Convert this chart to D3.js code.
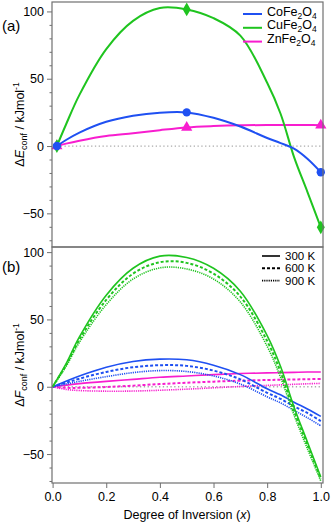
<!DOCTYPE html>
<html>
<head>
<meta charset="utf-8">
<script src="https://cdn.jsdelivr.net/npm/d3@7"></script>
<style>
  body { margin: 0; background: #fff; }
  text { font-family: "Liberation Sans", Arial, sans-serif; }
</style>
</head>
<body>
<div id="chart"></div>
<script>
// degree of inversion sampled for each panel
var xA = [0.016, 0.05, 0.1, 0.2, 0.3, 0.4, 0.5, 0.6, 0.7, 0.8, 0.85, 0.9, 0.95, 1.0];
var xB = [0, 0.05, 0.1, 0.2, 0.3, 0.4, 0.5, 0.6, 0.7, 0.8, 0.85, 0.9, 0.95, 1.0];

// (a) configurational energy, kJ/mol
var eCo = [0, 4.5, 10, 18, 22.5, 24.8, 25, 21, 14.5, 6, 2.2, -2, -9.5, -19.5];
var eCu = [0, 16, 38, 72, 93, 102.5, 101.5, 95, 82, 47, 24, -8, -34, -60.4];
var eZn = [0, 1.8, 4, 7.5, 9.5, 11.8, 13.8, 14.8, 15.4, 15.6, 15.6, 15.6, 15.6, 15.5];
var markerX = [0.016, 0.5, 1.0];

// (b) configurational free energy at 300 / 600 / 900 K
var fCu300 = [0, 17, 37, 68, 88, 97, 96, 88, 71, 38, 15, -15, -41, -67];
var fCu600 = [0, 16, 35, 64.5, 84, 92.5, 92, 84, 67, 34, 11, -18, -43, -68.5];
var fCu900 = [0, 15, 33, 61, 80, 88.3, 87.5, 80, 63, 30, 7, -21, -46, -70];
var fCo300 = [0, 4, 8, 14.5, 18.8, 20.5, 20, 16, 9, -1.5, -6, -11.5, -16.5, -22];
var fCo600 = [0, 3, 6, 11, 14.5, 16, 15.5, 12, 5.5, -4.5, -9, -14.5, -19.5, -25.5];
var fCo900 = [0, 2, 4, 7.5, 10.5, 12, 11.3, 8, 2, -7.5, -12, -17.5, -23, -29];
var fZn300 = [0, 1.2, 2.3, 4, 5.5, 7, 8, 9, 9.8, 10.3, 10.5, 10.7, 10.9, 11];
var fZn600 = [0, -0.8, -0.8, -0.2, 0.8, 2, 3, 3.8, 4.5, 5, 5.2, 5.4, 5.6, 5.8];
var fZn900 = [0, -2, -2.8, -3.3, -3.2, -2.6, -1.8, -0.8, 0.2, 1, 1.4, 1.8, 2.2, 2.5];

var yTicksMajor = [-50, 0, 50, 100];
var yTicksMinor = [-70, -60, -40, -30, -20, -10, 10, 20, 30, 40, 60, 70, 80, 90];
var xTicks = [0, 0.2, 0.4, 0.6, 0.8, 1.0];
var materials = ["CoFe2O4", "CuFe2O4", "ZnFe2O4"];
var temps = ["300 K", "600 K", "900 K"];

var colBlue = "#1f50f2";
var colGreen = "#1fc41f";
var colPink = "#f81dcf";
var frameCol = "#707070";

var w = 331, h = 523;
var left = 52, right = 323, topA = 2, mid = 247, bottom = 483;

var svg = d3.select("#chart")
    .append("svg")
    .attr("width", w)
    .attr("height", h);

var xScale = d3.scaleLinear().domain([0, 1]).range([52.6, 320.8]);
var yA = d3.scaleLinear().domain([-75, 107]).range([mid, topA]);
var yB = d3.scaleLinear().domain([-71.5, 103.8]).range([bottom, mid]);

function pairs(xs, ys) {
    return xs.map(function (x, i) { return [x, ys[i]]; });
}

// write a chemical formula with subscripts
function formula(sel, s) {
    s.split(/(\d)/).forEach(function (part) {
        if (part === "") return;
        if (/\d/.test(part)) {
            sel.append("tspan").attr("font-size", "8.5px").attr("dy", 3).text(part);
        } else {
            sel.append("tspan").attr("dy", sel.selectAll("tspan").size() ? -3 : 0).text(part);
        }
    });
}

function leftAxis(y, g) {
    g.call(d3.axisLeft(y).tickValues(yTicksMinor).tickSize(2.5).tickFormat(""));
    g.append("g").call(d3.axisLeft(y).tickValues(yTicksMajor).tickSize(5).tickPadding(3));
    g.selectAll(".domain").remove();
    g.selectAll("line").attr("stroke", frameCol);
    g.selectAll("text").attr("font-size", "12.5px").attr("fill", "#000")
        .attr("font-family", "Liberation Sans, Arial, sans-serif");
}

function yTitle(cy, letter) {
    var t = svg.append("text")
        .attr("transform", "translate(24," + cy + ") rotate(-90)")
        .attr("text-anchor", "middle")
        .attr("font-size", "12.5px");
    t.append("tspan").text("\u0394");
    t.append("tspan").attr("font-style", "italic").text(letter);
    t.append("tspan").attr("font-size", "9px").attr("dy", 3).text("conf");
    t.append("tspan").attr("dy", -3).text(" / kJmol");
    t.append("tspan").attr("font-size", "8.5px").attr("dy", -5).text("-1");
}

// ---------- panel (a)
var gA = svg.append("g");
leftAxis(yA, gA.append("g").attr("transform", "translate(" + left + ",0)"));

gA.append("line")
    .attr("x1", xScale(0.016)).attr("x2", xScale(1))
    .attr("y1", yA(0)).attr("y2", yA(0))
    .attr("stroke", "#aaa").attr("stroke-width", 1.3)
    .attr("stroke-dasharray", "1.3,2.5");

var lineA = d3.line()
    .x(function (d) { return xScale(d[0]); })
    .y(function (d) { return yA(d[1]); })
    .curve(d3.curveCatmullRom.alpha(0.5));

var seriesA = [
    { name: materials[2], ys: eZn, color: colPink, sym: d3.symbolTriangle, size: 55 },
    { name: materials[1], ys: eCu, color: colGreen, sym: d3.symbolDiamond, size: 55 },
    { name: materials[0], ys: eCo, color: colBlue, sym: d3.symbolCircle, size: 55 }
];

seriesA.forEach(function (s) {
    var pts = pairs(xA, s.ys);
    gA.append("path")
        .datum(pts)
        .attr("d", lineA)
        .attr("fill", "none")
        .attr("stroke", s.color)
        .attr("stroke-width", 2);
    gA.selectAll(null)
        .data(pts.filter(function (d) { return markerX.indexOf(d[0]) >= 0; }))
        .enter()
        .append("path")
        .attr("transform", function (d) {
            return "translate(" + xScale(d[0]) + "," + yA(d[1]) + ")";
        })
        .attr("d", d3.symbol().type(s.sym).size(s.size))
        .attr("fill", s.color);
});

var legA = svg.append("g");
[[colBlue, materials[0]], [colGreen, materials[1]], [colPink, materials[2]]].forEach(function (d, i) {
    var yy = 14 + i * 13.8;
    legA.append("line")
        .attr("x1", 243).attr("x2", 262)
        .attr("y1", yy).attr("y2", yy)
        .attr("stroke", d[0]).attr("stroke-width", 2);
    var t = legA.append("text")
        .attr("x", 267).attr("y", yy + 4.5)
        .attr("font-size", "12.5px");
    formula(t, d[1]);
});

svg.append("text").attr("x", 2).attr("y", 31).attr("font-size", "15px").text("(a)");
yTitle((topA + mid) / 2, "E");

// ---------- panel (b)
var gB = svg.append("g");
leftAxis(yB, gB.append("g").attr("transform", "translate(" + left + ",0)"));

gB.append("line")
    .attr("x1", xScale(0)).attr("x2", xScale(1))
    .attr("y1", yB(0)).attr("y2", yB(0))
    .attr("stroke", "#aaa").attr("stroke-width", 1.3)
    .attr("stroke-dasharray", "1.3,2.5");

var lineB = d3.line()
    .x(function (d) { return xScale(d[0]); })
    .y(function (d) { return yB(d[1]); })
    .curve(d3.curveCatmullRom.alpha(0.5));

var dashes = { "300 K": null, "600 K": "3,2", "900 K": "1.2,1" };
var widths = { "300 K": 1.6, "600 K": 2, "900 K": 1.6 };

var seriesB = [
    [fZn900, colPink, temps[2]], [fZn600, colPink, temps[1]], [fZn300, colPink, temps[0]],
    [fCo900, colBlue, temps[2]], [fCo600, colBlue, temps[1]], [fCo300, colBlue, temps[0]],
    [fCu900, colGreen, temps[2]], [fCu600, colGreen, temps[1]], [fCu300, colGreen, temps[0]]
];

gB.selectAll(".fline")
    .data(seriesB)
    .enter()
    .append("path")
    .attr("class", "fline")
    .attr("d", function (d) { return lineB(pairs(xB, d[0])); })
    .attr("fill", "none")
    .attr("stroke", function (d) { return d[1]; })
    .attr("stroke-width", function (d) { return widths[d[2]]; })
    .attr("stroke-dasharray", function (d) { return dashes[d[2]]; });

var legB = svg.append("g");
temps.forEach(function (tt, i) {
    var yy = 256 + i * 12.3;
    legB.append("line")
        .attr("x1", 262).attr("x2", 280)
        .attr("y1", yy).attr("y2", yy)
        .attr("stroke", "#000")
        .attr("stroke-width", widths[tt])
        .attr("stroke-dasharray", dashes[tt]);
    legB.append("text")
        .attr("x", 285).attr("y", yy + 4)
        .attr("font-size", "11.5px")
        .text(tt);
});

svg.append("text").attr("x", 2).attr("y", 272).attr("font-size", "15px").text("(b)");
yTitle((mid + bottom) / 2, "F");

// x axis
var gx = svg.append("g")
    .attr("transform", "translate(0," + bottom + ")")
    .call(d3.axisBottom(xScale).tickValues(xTicks).tickFormat(d3.format(".1f")).tickSize(5).tickPadding(4));
gx.select(".domain").remove();
gx.selectAll("line").attr("stroke", frameCol);
gx.selectAll("text").attr("font-size", "12.5px").attr("fill", "#000")
    .attr("font-family", "Liberation Sans, Arial, sans-serif");

var xt = svg.append("text")
    .attr("x", 187).attr("y", 519)
    .attr("text-anchor", "middle")
    .attr("font-size", "12.5px");
xt.append("tspan").text("Degree of Inversion (");
xt.append("tspan").attr("font-style", "italic").text("x");
xt.append("tspan").text(")");

// frames
svg.append("rect")
    .attr("x", left).attr("y", topA)
    .attr("width", right - left).attr("height", mid - topA)
    .attr("fill", "none").attr("stroke", frameCol).attr("stroke-width", 1.2);
svg.append("rect")
    .attr("x", left).attr("y", mid)
    .attr("width", right - left).attr("height", bottom - mid)
    .attr("fill", "none").attr("stroke", frameCol).attr("stroke-width", 1.2);
</script>
</body>
</html>
